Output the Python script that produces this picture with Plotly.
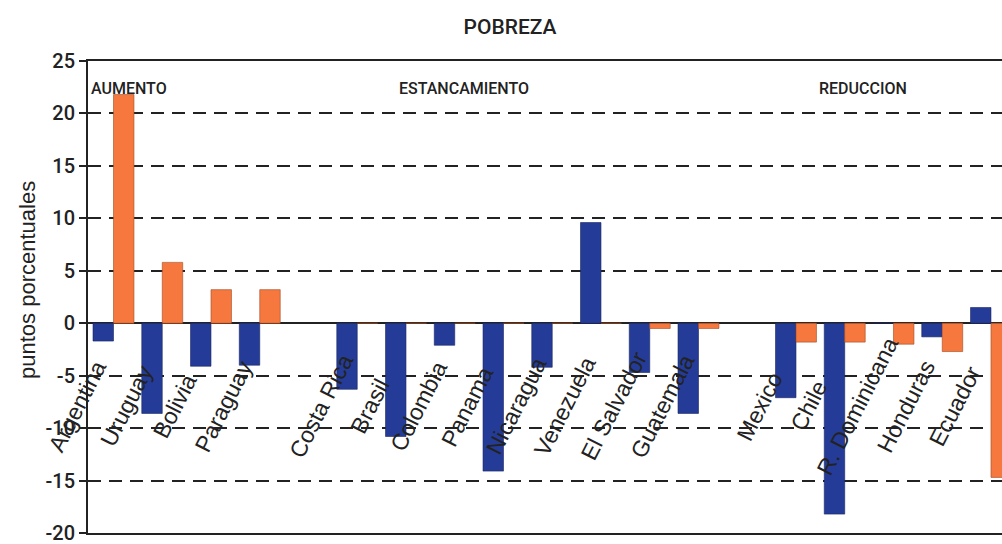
import plotly.graph_objects as go

categories = ["Argentina", "Uruguay", "Bolivia", "Paraguay", "gap1",
              "Costa Rica", "Brasil", "Colombia", "Panama", "Nicaragua",
              "Venezuela", "El Salvador", "Guatemala", "gap2",
              "Mexico", "Chile", "R. Dominicana", "Honduras", "Ecuador"]

serie_azul = [-1.7, -8.6, -4.1, -4.0, None,
              -6.3, -10.8, -2.1, -14.1, -4.2,
              9.6, -4.7, -8.6, None,
              -7.1, -18.2, 0.0, -1.3, 1.5]

serie_naranja = [21.8, 5.8, 3.2, 3.2, None,
                 0.0, 0.0, 0.0, 0.0, 0.0,
                 0.0, -0.5, -0.5, None,
                 -1.8, -1.8, -2.0, -2.7, -14.7]

etiquetas = [c for c in categories if not c.startswith("gap")]

grupos = [("AUMENTO", 0.0, "left"), ("ESTANCAMIENTO", 0.411, "center"), ("REDUCCION", 0.848, "center")]

y_ticks = [25, 20, 15, 10, 5, 0, -5, -10, -15, -20]

AZUL = "#243c98"
NARANJA = "#f6783f"
NARROW = "Roboto, Liberation Sans, sans-serif"
SANS = "Liberation Sans, Arial, sans-serif"

fig = go.Figure()
fig.add_trace(go.Bar(x=categories, y=serie_azul, marker=dict(color=AZUL, line=dict(color="#1a2560", width=0.6)),
                     name="serie 1", showlegend=False))
fig.add_trace(go.Bar(x=categories, y=serie_naranja, marker=dict(color=NARANJA, line=dict(color="#a04a20", width=0.6)),
                     name="serie 2", showlegend=False))

annotations = []
for lab in etiquetas:
    annotations.append(dict(x=lab, y=-7.9, xref="x", yref="y", text=lab, showarrow=False,
                            textangle=-63, xanchor="center", yanchor="middle", xshift=-36,
                            font=dict(family=SANS, size=23, color="#222")))
for txt, px, anc in grupos:
    annotations.append(dict(x=px, y=22.4, xref="paper", yref="y", text=txt, showarrow=False,
                            xanchor=anc, yanchor="middle", xshift=1 if anc == "left" else 0,
                            font=dict(family=NARROW, size=16, color="#222", weight=500)))

annotations.append(dict(x=0, y=0.536, xref="paper", yref="paper", text="puntos porcentuales",
                        showarrow=False, textangle=-90, xanchor="center", yanchor="middle", xshift=-61,
                        font=dict(family=SANS, size=22, color="#222")))

fig.update_layout(
    width=1002, height=544,
    margin=dict(l=88, r=0, t=61, b=11),
    paper_bgcolor="white", plot_bgcolor="white",
    barmode="group", bargap=0.16, bargroupgap=0,
    title=dict(text="POBREZA", x=0.509, xanchor="center", y=1 - 27 / 544, yanchor="middle",
               font=dict(family=NARROW, size=21, color="#222", weight=500)),
    annotations=annotations,
    xaxis=dict(type="category", categoryorder="array", categoryarray=categories,
               range=[-0.523, 18.226], showticklabels=False, ticks="",
               showgrid=False, showline=True, linecolor="#222", linewidth=2, mirror=True,
               zeroline=False),
    yaxis=dict(range=[-20, 25], tickvals=y_ticks, ticktext=[str(v) for v in y_ticks],
               ticks="outside", ticklen=7, tickwidth=2, tickcolor="#222",
               tickfont=dict(family=NARROW, size=20, color="#222", weight=500),
               ticklabeloverflow="allow", automargin=False,
               showline=True, linecolor="#222", linewidth=2, mirror=False,
               showgrid=True, gridcolor="#222", gridwidth=2, griddash="13px,8px",
               zeroline=True, zerolinecolor="#222", zerolinewidth=2),
)

fig.write_html("out.html", config={"displayModeBar": False},
               post_script="document.body.style.margin='0';document.body.style.overflow='hidden';")
